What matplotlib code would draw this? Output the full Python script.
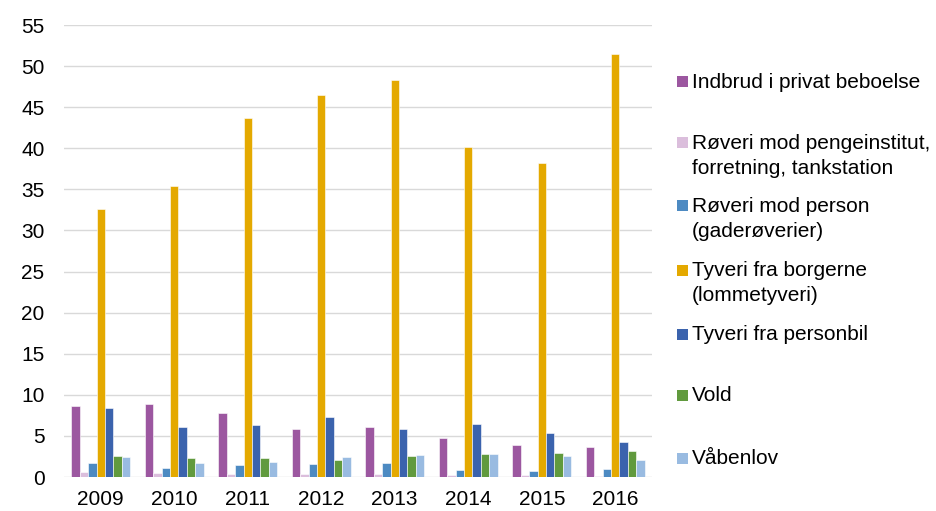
import matplotlib
matplotlib.use("Agg")
import matplotlib.pyplot as plt
from matplotlib.patches import Rectangle
import numpy as np

plt.rcParams['font.family'] = ['Liberation Sans', 'DejaVu Sans']

years = ["2009", "2010", "2011", "2012", "2013", "2014", "2015", "2016"]
series_names = [
    "Indbrud i privat beboelse",
    "Røveri mod pengeinstitut,\nforretning, tankstation",
    "Røveri mod person\n(gaderøverier)",
    "Tyveri fra borgerne\n(lommetyveri)",
    "Tyveri fra personbil",
    "Vold",
    "Våbenlov",
]
indbrud = [8.66, 8.83, 7.77, 5.83, 6.11, 4.74, 3.89, 3.64]
roveri_penge = [0.65, 0.49, 0.32, 0.32, 0.36, 0.24, 0.24, 0.16]
roveri_person = [1.66, 1.09, 1.46, 1.54, 1.70, 0.85, 0.77, 0.97]
tyveri_borgerne = [32.6, 35.4, 43.7, 46.5, 48.3, 40.1, 38.2, 51.5]
tyveri_personbil = [8.34, 6.07, 6.36, 7.25, 5.87, 6.48, 5.34, 4.29]
vold = [2.59, 2.27, 2.31, 2.10, 2.51, 2.83, 2.96, 3.20]
vabenlov = [2.47, 1.66, 1.78, 2.39, 2.67, 2.83, 2.59, 2.02]

series = [indbrud, roveri_penge, roveri_person, tyveri_borgerne,
          tyveri_personbil, vold, vabenlov]
colors = ["#9C57A0", "#DBBEDC", "#4D8AC2", "#E4A900", "#3B63AD", "#619A3E", "#99BBE1"]

W, H = 936, 511
fig = plt.figure(figsize=(W / 100, H / 100), dpi=100)
ax = fig.add_axes([64 / W, 1 - 477 / H, (652 - 64) / W, (477 - 25) / H])

x = np.arange(len(years))
n = len(series)
bw = 0.8 / n
for i, (vals, c) in enumerate(zip(series, colors)):
    ax.bar(x - 0.4 + bw * (i + 0.5), vals, width=bw, color=c,
           edgecolor="white", linewidth=0.4, zorder=3)

ax.set_xlim(-0.5, len(years) - 0.5)
ax.set_ylim(0, 55)
ax.set_yticks(np.arange(0, 56, 5))
ax.set_xticks(x)
ax.set_xticklabels(years)
ax.tick_params(axis='both', length=0, labelsize=15, colors="#000000")
ax.tick_params(axis='y', pad=14)
ax.tick_params(axis='x', pad=9)
for s in ax.spines.values():
    s.set_visible(False)
ax.yaxis.grid(True, color="#D9D9D9", linewidth=1.0, zorder=0)
ax.set_axisbelow(True)

# manual legend (positions in pixels from top)
leg_first_line_y = [82, 143, 206, 270, 334, 395, 458]
line_gap = 25.5
for name, c, yy in zip(series_names, colors, leg_first_line_y):
    fig.patches.append(Rectangle((677 / W, 1 - (yy + 5.5) / H), 11 / W, 11 / H,
                                 transform=fig.transFigure, facecolor=c,
                                 edgecolor='none'))
    for k, line in enumerate(name.split("\n")):
        fig.text(692 / W, 1 - (yy + k * line_gap) / H, line, fontsize=15,
                 ha='left', va='center', color="#000000")

fig.savefig("out.png", dpi=100)
